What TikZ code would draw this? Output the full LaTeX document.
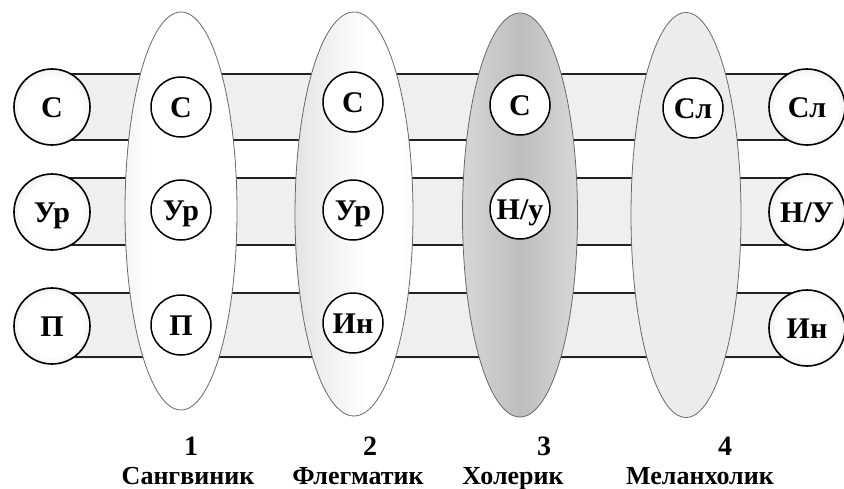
\documentclass[tikz,border=0pt]{standalone}
\usepackage{fontspec}
\setmainfont{Liberation Serif}
\usetikzlibrary{shapes.geometric,backgrounds}
\definecolor{bandGray}{RGB}{239,239,239}
\definecolor{lineDark}{RGB}{35,35,35}
\definecolor{ellEdge}{RGB}{105,105,105}
\definecolor{ballRim}{RGB}{175,175,175}
\definecolor{sangL}{RGB}{218,218,218}
\definecolor{sangR}{RGB}{228,228,228}
\definecolor{flegL}{RGB}{205,205,205}
\definecolor{flegR}{RGB}{222,222,222}
\definecolor{holEdge}{RGB}{240,240,240}
\definecolor{holMid}{RGB}{190,190,190}
\definecolor{melGray}{RGB}{236,236,236}
\pgfdeclareradialshading{ballShade}{\pgfpoint{0bp}{0bp}}{color(0bp)=(white); color(20bp)=(white); color(50bp)=(ballRim)}
\pgfdeclarehorizontalshading{sangShade}{100bp}{color(0bp)=(sangL); color(35bp)=(white); color(75bp)=(white); color(100bp)=(sangR)}
\pgfdeclarehorizontalshading{flegShade}{100bp}{color(0bp)=(flegL); color(55bp)=(white); color(70bp)=(white); color(100bp)=(flegR)}
\pgfdeclarehorizontalshading{holShade}{100bp}{color(0bp)=(holEdge); color(50bp)=(holMid); color(100bp)=(holEdge)}

\begin{document}
\begin{tikzpicture}[x=1pt,y=-1pt,
    ball/.style={circle, draw=black, line width=1.6pt, minimum size=76pt, inner sep=0pt,
      shading=ballShade, font=\fontsize{30}{34}\selectfont\bfseries, text height=20pt, text depth=0pt},
    trait/.style={circle, draw=black, line width=1.5pt, minimum size=60pt, inner sep=0pt,
      fill=white, font=\fontsize{30}{34}\selectfont\bfseries, text height=20pt, text depth=0pt},
    temper/.style={ellipse, draw=ellEdge, line width=0.8pt, inner sep=0pt},
    bandline/.style={lineDark, line width=1.5pt},
    numlbl/.style={anchor=base, font=\fontsize{28}{32}\selectfont\bfseries},
    namelbl/.style={anchor=base, font=\fontsize{26}{30}\selectfont\bfseries}]
    \useasboundingbox (0,0) rectangle (844,488);

    % Ellipses for the four temperaments
    \node[temper, minimum width=112pt, minimum height=398pt, shading=sangShade] (sang) at (181,211) {};
    \node[temper, minimum width=118pt, minimum height=404pt, shading=flegShade] (fleg) at (354,214) {};
    \node[temper, minimum width=115pt, minimum height=404pt, shading=holShade] (hol) at (520,215) {};
    \node[temper, minimum width=110pt, minimum height=405pt, fill=melGray] (mel) at (686,215) {};

    % Traits inside each ellipse
    \node[trait] (sangS) at (181,107) {С};
    \node[trait] (sangU) at (181,210) {Ур};
    \node[trait] (sangP) at (181,325) {П};
    \node[trait] (flegS) at (353,102) {С};
    \node[trait] (flegU) at (353,210) {Ур};
    \node[trait] (flegI) at (353,323) {Ин};
    \node[trait] (holS) at (520,105) {С};
    \node[trait] (holN) at (520,209) {Н/у};
    \node[trait] (melS) at (693,108) {Сл};

    % Shaded balls at both ends
    \node[ball] (leftS) at (52,107) {С};
    \node[ball] (leftU) at (52,212) {Ур};
    \node[ball] (leftP) at (52,326) {П};
    \node[ball] (rightS) at (807,107) {Сл};
    \node[ball] (rightN) at (807,212) {Н/У};
    \node[ball] (rightI) at (807,328) {Ин};

    % Bands behind everything
    \begin{scope}[on background layer]
      \fill[bandGray] ([yshift=33]leftS.center) rectangle ([yshift=-33]rightS.center);
      \fill[bandGray] ([yshift=34]leftU.center) rectangle ([yshift=-33]rightN.center);
      \fill[bandGray] ([yshift=33]leftP.center) rectangle ([yshift=-31]rightI.center);
      \draw[bandline] ([yshift=33]leftS.center) -- ([yshift=33]rightS.center)
                      ([yshift=-33]leftS.center) -- ([yshift=-33]rightS.center);
      \draw[bandline] ([yshift=34]leftU.center) -- ([yshift=34]rightN.center)
                      ([yshift=-33]leftU.center) -- ([yshift=-33]rightN.center);
      \draw[bandline] ([yshift=33]leftP.center) -- ([yshift=35]rightI.center)
                      ([yshift=-31]leftP.center) -- ([yshift=-29]rightI.center);
    \end{scope}

    % Numbers and names
    \node[numlbl] (num1) at (191,455) {1};
    \node[numlbl] (num2) at (370,455) {2};
    \node[numlbl] (num3) at (544,455) {3};
    \node[numlbl] (num4) at (725,455) {4};
    \node[namelbl] (name1) at (188,484) {Сангвиник};
    \node[namelbl] (name2) at (358,484) {Флегматик};
    \node[namelbl] (name3) at (513,484) {Холерик};
    \node[namelbl] (name4) at (700,484) {Меланхолик};
  \end{tikzpicture}
\end{document}
